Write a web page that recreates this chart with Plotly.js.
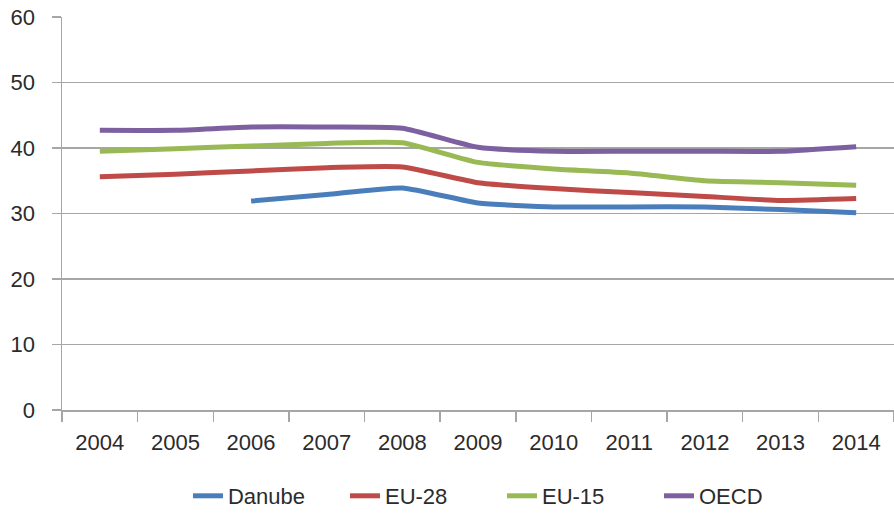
<!DOCTYPE html>
<html>
<head>
<meta charset="utf-8">
<script src="https://cdn.plot.ly/plotly-3.0.1.min.js"></script>
<style>html,body{margin:0;padding:0;background:#fff;}#chart{width:894px;height:517px;}</style>
</head>
<body>
<div id="chart"></div>
<script>
const years = ["2004","2005","2006","2007","2008","2009","2010","2011","2012","2013","2014"];
const danube = [null, null, 31.9, 32.9, 33.9, 31.6, 31.0, 31.0, 31.0, 30.6, 30.1];
const eu28 = [35.6, 36.0, 36.5, 37.0, 37.1, 34.7, 33.8, 33.2, 32.6, 32.0, 32.3];
const eu15 = [39.5, 39.9, 40.3, 40.7, 40.8, 37.8, 36.8, 36.2, 35.0, 34.7, 34.3];
const oecd = [42.7, 42.7, 43.2, 43.2, 43.0, 40.1, 39.5, 39.5, 39.5, 39.5, 40.2];

const names = ["Danube", "EU-28", "EU-15", "OECD"];
const colors = ["#4A7EBB", "#BE4B48", "#98B954", "#7D60A0"];
const series = [danube, eu28, eu15, oecd];

const traces = series.map((s, i) => ({
  x: years, y: s, name: names[i], type: "scatter", mode: "lines",
  line: {color: colors[i], width: 5, shape: "spline", smoothing: 0.5},
  connectgaps: false
}));

const fontFam = "'Liberation Sans', Arial, sans-serif";
const txt = "#2b2b2b";
const layout = {
  width: 894, height: 517,
  margin: {l: 62, r: 0, t: 17, b: 107},
  paper_bgcolor: "#fff", plot_bgcolor: "#fff",
  font: {family: fontFam, size: 22, color: txt},
  showlegend: true,
  legend: {orientation: "h", x: 0.5615, xref: "container", xanchor: "center",
           y: 0.0, yref: "container", yanchor: "bottom",
           entrywidth: 112, entrywidthmode: "pixels",
           font: {family: fontFam, size: 22, color: txt}, tracegroupgap: 0},
  xaxis: {type: "category", range: [-0.5, 10.5], tickson: "boundaries",
          ticks: "outside", ticklen: 10, tickcolor: "#A6A6A6", tickwidth: 1.5,
          showline: true, linecolor: "#A6A6A6", linewidth: 1.5,
          showgrid: false, zeroline: false, ticklabelstandoff: 12, fixedrange: true,
          tickfont: {size: 22, color: txt}},
  yaxis: {range: [0, 60], dtick: 10, tick0: 0, ticks: "outside", ticklen: 9,
          tickcolor: "#A6A6A6", tickwidth: 1.5,
          showline: true, linecolor: "#A6A6A6", linewidth: 1.5,
          showgrid: true, gridcolor: "#A6A6A6", gridwidth: 1.5,
          zeroline: false, ticklabelstandoff: 12, fixedrange: true,
          tickfont: {size: 22, color: txt}}
};

Plotly.newPlot("chart", traces, layout, {displayModeBar: false, staticPlot: true});
</script>
</body>
</html>
